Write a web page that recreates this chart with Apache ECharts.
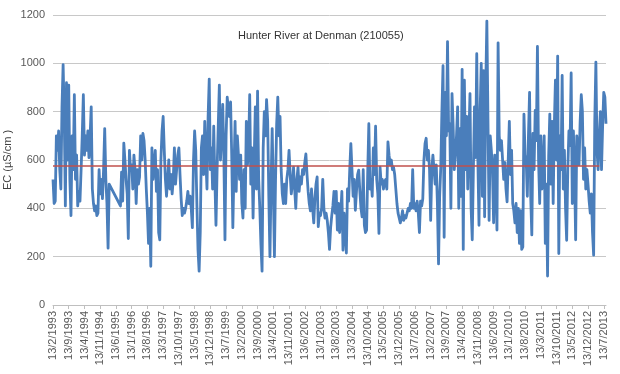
<!DOCTYPE html>
<html>
<head>
<meta charset="utf-8">
<script src="https://cdn.jsdelivr.net/npm/echarts@6/dist/echarts.min.js"></script>
<style>
html,body{margin:0;padding:0;background:#fff;}
#chart{width:620px;height:374px;}
</style>
</head>
<body>
<div id="chart"></div>
<script>
// ---- data (EC in µS/cm, two readings per month from 13/2/1993) ----
const titleText = 'Hunter River at Denman (210055)';
const yAxisName = 'EC (µS/cm )';
const startYear = 1993, startMonth = 2;
const tickEvery = 14; // one label every 7 months
const tickLabels = ['13/2/1993','13/9/1993','13/4/1994','13/11/1994','13/6/1995','13/1/1996','13/8/1996','13/3/1997','13/10/1997','13/5/1998','13/12/1998','13/7/1999','13/2/2000','13/9/2000','13/4/2001','13/11/2001','13/6/2002','13/1/2003','13/8/2003','13/3/2004','13/10/2004','13/5/2005','13/12/2005','13/7/2006','13/2/2007','13/9/2007','13/4/2008','13/11/2008','13/6/2009','13/1/2010','13/8/2010','13/3/2011','13/10/2011','13/5/2012','13/12/2012','13/7/2013'];
const guideline = 578;

const ec1993_1996 = [520,420,430,700,640,720,560,480,820,995,
  780,410,920,600,910,520,370,700,560,870,
  520,620,410,470,430,560,700,870,620,700,
  640,720,610,700,820,480,420,390,410,370,
  380,560,460,520,440,560,730,520,420,235,
  500,null,null,null,null,null,null,null,null,null,
  410,550,430,670,600,520,460,275,640,560,
  580,480,620,560,420,560,500,530,700,600,
  710,680];
const ec1996_1999 = [600,480,380,255,400,160,650,520,580,640,
  470,560,300,270,600,720,780,640,520,450,
  520,600,480,540,460,520,650,500,560,620,
  650,540,440,370,400,380,400,430,470,420,
  450,400,320,600,720,640,420,230,140,300,
  650,700,540,760,600,480,780,935,560,650,
  480,740,520,330,560,740,910,600,700,830,
  620,270,700,860,810,780,840,620,320,560,
  760,470,700,620,520];
const ec2000_2003 = [620,420,360,560,400,760,580,640,870,500,
  650,360,600,820,480,885,520,400,250,140,
  650,800,700,850,760,450,200,500,730,480,
  200,520,750,860,700,780,560,460,420,500,
  420,520,560,640,540,460,500,570,480,400,
  520,570,470,530,500,560,540,590,625,540,
  470,420,390,480,400,340,440,500,530,324,
  380,370,400,520,400,360,380,350,300,230,
  320,370,410,470,380];
const ec2003_2007 = [470,310,420,300,380,470,227,380,300,215,
  480,430,560,668,560,450,520,392,470,540,
  558,470,400,365,560,330,300,310,550,750,
  480,520,450,650,540,740,520,460,296,570,
  500,520,480,510,520,480,675,620,580,600,
  560,570,540,480,420,380,360,340,360,390,
  350,370,360,380,400,390,420,400,560,400,
  420,390,430,380,300,430,410,440,600,668,
  690,600,640,560,350];
const ec2007_2010 = [560,620,560,500,580,420,170,450,570,800,
  990,280,880,700,1090,720,750,400,875,740,
  560,620,700,820,400,730,450,975,230,930,
  560,780,480,700,875,400,270,560,820,610,
  1040,600,330,800,1000,450,970,365,900,1175,
  760,350,700,640,560,340,620,520,310,1085,
  700,640,680,600,520,590,480,427,600,760,
  540,640,420,390,340,420,300,400,255,390,
  230,240,790,620];
const ec2010_2013 = [600,450,700,880,450,290,710,560,805,680,
  1070,600,420,700,480,560,700,255,500,120,
  620,790,500,760,420,740,930,600,1030,213,
  700,560,950,480,640,400,268,560,720,660,
  960,420,720,560,270,700,640,580,760,870,
  800,520,650,480,560,500,430,380,460,300,
  206,760,1005,640,560,700,800,560,740,880,
  860,750];

const ecValues = [].concat(ec1993_1996, ec1996_1999, ec2000_2003, ec2003_2007, ec2007_2010, ec2010_2013);

const categories = [];
for (let i = 0; i < ecValues.length; i++) {
  const m = startMonth - 1 + Math.floor(i / 2);
  const y = startYear + Math.floor(m / 12);
  const mm = (m % 12) + 1;
  const d = i % 2 === 0 ? 13 : 28;
  categories.push(d + '/' + mm + '/' + y);
}

const chart = echarts.init(document.getElementById('chart'), null, {renderer: 'canvas'});
const font = 'Liberation Sans, Arial, sans-serif';
chart.setOption({
  animation: false,
  backgroundColor: '#ffffff',
  title: {
    text: titleText,
    left: 233, top: 25,
    textStyle: {fontFamily: font, fontSize: 11, fontWeight: 'normal', color: '#333333'}
  },
  grid: {left: 53, right: 14, top: 15, bottom: 69, containLabel: false, outerBoundsMode: 'none'},
  xAxis: {
    type: 'category',
    data: categories,
    boundaryGap: false,
    axisLine: {show: true, lineStyle: {color: '#bfbfbf', width: 1}},
    axisTick: {show: true, interval: tickEvery - 1, length: 4, lineStyle: {color: '#bfbfbf'}},
    axisLabel: {
      interval: tickEvery - 1, rotate: 90, margin: 6,
      fontFamily: font, fontSize: 11, color: '#595959',
      formatter: function (v, idx) { return tickLabels[Math.round(idx / tickEvery)] || v; }
    },
    splitLine: {show: false}
  },
  yAxis: {
    type: 'value',
    min: 0, max: 1200, interval: 200,
    name: yAxisName,
    nameLocation: 'middle',
    nameGap: 40,
    nameMoveOverlap: false,
    nameTextStyle: {fontFamily: font, fontSize: 11, color: '#404040'},
    axisLine: {show: false},
    axisTick: {show: false},
    axisLabel: {fontFamily: font, fontSize: 11, color: '#595959', margin: 8,
      formatter: function (v) { return String(v); }},
    splitLine: {show: true, lineStyle: {color: '#c8c8c8', width: 1}}
  },
  series: [{
    type: 'line',
    data: ecValues,
    showSymbol: false,
    connectNulls: true,
    lineStyle: {color: '#4a7ebb', width: 2.8, join: 'round'},
    itemStyle: {color: '#4a7ebb'},
    markLine: {
      silent: true,
      symbol: ['none', 'none'],
      label: {show: false},
      lineStyle: {color: '#c0504d', width: 1.5, type: 'solid'},
      data: [[{coord: [categories[0], guideline]}, {coord: [categories[486], guideline]}]]
    }
  }]
});
</script>
</body>
</html>
